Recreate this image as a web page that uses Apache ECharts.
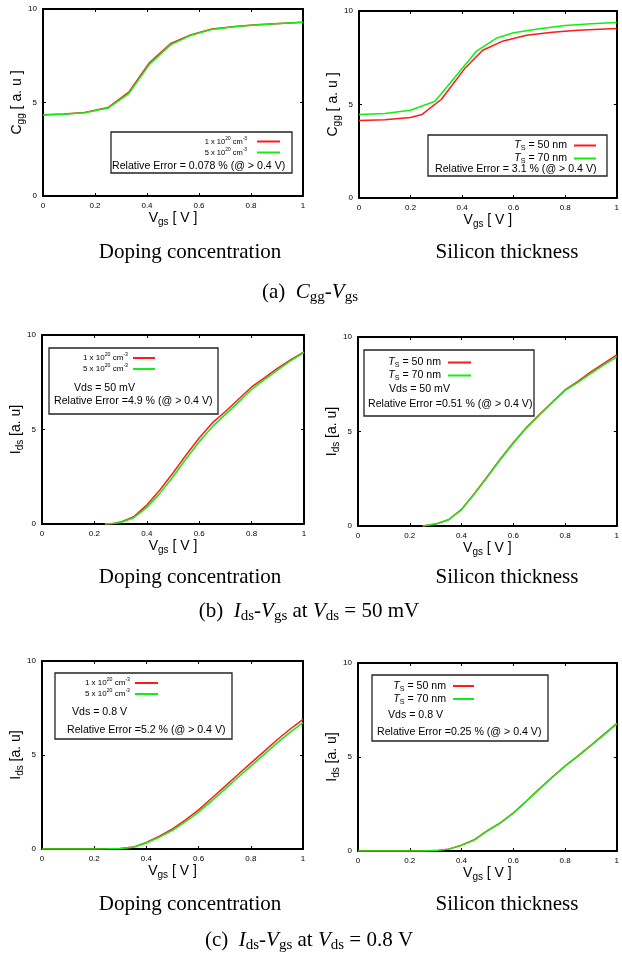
<!DOCTYPE html>
<html><head><meta charset="utf-8">
<script src="https://cdn.jsdelivr.net/npm/echarts@6/dist/echarts.min.js"></script>
<style>html,body{margin:0;padding:0;background:#fff}#c{width:622px;height:955px}</style>
</head><body><div id="c"></div>
<script>
// ---------- data ----------
const xTickInterval = 0.2;
const yTickInterval = 5;
// (a) Cgg-Vgs, doping
const vgsCggDop = [0,0.08,0.16,0.25,0.33,0.41,0.49,0.57,0.65,0.74,0.82,0.91,1.0];
const cggDop1e20 = [4.34,4.38,4.46,4.73,5.55,7.14,8.14,8.63,8.93,9.07,9.16,9.23,9.29];
const cggDop5e20 = [4.33,4.37,4.45,4.70,5.48,7.05,8.08,8.60,8.91,9.06,9.15,9.23,9.29];
// (a) Cgg-Vgs, silicon thickness
const vgsCggTs50 = [0,0.1,0.2,0.245,0.32,0.41,0.48,0.56,0.65,0.75,0.85,1.0];
const cggTs50 = [4.14,4.18,4.30,4.47,5.28,6.92,7.90,8.40,8.70,8.87,8.97,9.07];
const vgsCggTs70 = [0,0.1,0.2,0.295,0.456,0.535,0.6,0.7,0.8,0.9,1.0];
const cggTs70 = [4.46,4.52,4.69,5.17,7.86,8.56,8.84,9.05,9.23,9.32,9.39];
// (b) Ids-Vgs at Vds = 50 mV, doping
const vgsIdsLinDop = [0.24,0.27,0.3,0.35,0.4,0.45,0.5,0.55,0.6,0.65,0.7,0.75,0.8,0.85,0.9,0.95,1.0];
const idsLinDop1e20 = [0,0.03,0.10,0.38,1.00,1.80,2.70,3.65,4.55,5.35,5.95,6.60,7.25,7.75,8.25,8.70,9.10];
const idsLinDop5e20 = [0,0.02,0.08,0.33,0.88,1.62,2.50,3.45,4.35,5.15,5.80,6.45,7.12,7.65,8.15,8.65,9.08];
// (b) Ids-Vgs at Vds = 50 mV, silicon thickness
const vgsIdsLinTs = [0.25,0.3,0.35,0.4,0.45,0.5,0.55,0.6,0.65,0.7,0.75,0.8,0.85,0.9,0.95,1.0];
const idsLinTs50 = [0,0.10,0.33,0.88,1.72,2.62,3.55,4.40,5.20,5.88,6.55,7.20,7.65,8.15,8.60,9.05];
const idsLinTs70 = [0,0.10,0.33,0.87,1.70,2.60,3.52,4.38,5.18,5.86,6.52,7.17,7.60,8.08,8.52,8.95];
// (c) Ids-Vgs at Vds = 0.8 V, doping
const vgsIdsSat = [0,0.1,0.2,0.25,0.3,0.35,0.4,0.45,0.5,0.55,0.6,0.65,0.7,0.75,0.8,0.85,0.9,0.95,1.0];
const idsSatDop1e20 = [0,0,0,0.01,0.03,0.10,0.35,0.68,1.07,1.55,2.08,2.70,3.32,3.95,4.57,5.18,5.80,6.37,6.90];
const idsSatDop5e20 = [0,0,0,0.01,0.03,0.09,0.32,0.63,0.99,1.45,1.96,2.56,3.17,3.80,4.41,5.02,5.63,6.20,6.72];
// (c) Ids-Vgs at Vds = 0.8 V, silicon thickness
const idsSatTs50 = [0,0,0,0.005,0.02,0.10,0.31,0.60,1.08,1.50,2.02,2.65,3.30,3.92,4.52,5.06,5.62,6.20,6.78];
const idsSatTs70 = [0,0,0,0.005,0.02,0.10,0.30,0.59,1.07,1.49,2.01,2.64,3.29,3.91,4.51,5.05,5.61,6.18,6.76];

const relErrors = ['0.078','3.1','4.9','0.51','5.2','0.25'];
const vdsTexts = ['', '', 'Vds = 50 mV', 'Vds = 50 mV', 'Vds = 0.8 V', 'Vds = 0.8 V'];
const captions = ['Doping concentration', 'Silicon thickness'];

// ---------- layout ----------
const FONT = "'Liberation Sans', Arial, sans-serif";
const SERIF = "'Liberation Serif', 'Times New Roman', serif";
const RED = '#ff1a1a', GREEN = '#11ee11';

const grids = [
  {left:43, top:9, width:260, height:187},
  {left:359, top:11, width:262, height:187},
  {left:42, top:335, width:262, height:189},
  {left:358, top:337, width:262, height:189},
  {left:42, top:661, width:261, height:188},
  {left:358, top:663, width:262, height:188}
];
const yNames = ['cgg','cgg','ids','ids','ids','ids'];
const panelSeries = [
  [['cggDop1e20', vgsCggDop, cggDop1e20, RED], ['cggDop5e20', vgsCggDop, cggDop5e20, GREEN]],
  [['cggTs50', vgsCggTs50, cggTs50, RED], ['cggTs70', vgsCggTs70, cggTs70, GREEN]],
  [['idsLinDop1e20', vgsIdsLinDop, idsLinDop1e20, RED], ['idsLinDop5e20', vgsIdsLinDop, idsLinDop5e20, GREEN]],
  [['idsLinTs50', vgsIdsLinTs, idsLinTs50, RED], ['idsLinTs70', vgsIdsLinTs, idsLinTs70, GREEN]],
  [['idsSatDop1e20', vgsIdsSat, idsSatDop1e20, RED], ['idsSatDop5e20', vgsIdsSat, idsSatDop5e20, GREEN]],
  [['idsSatTs50', vgsIdsSat, idsSatTs50, RED], ['idsSatTs70', vgsIdsSat, idsSatTs70, GREEN]]
];
const isDop = [true,false,true,false,true,false];

// legend geometry: [iconRight, firstRowCenter, rowPitch, iconWidth, fontSize]
const legendGeo = [
  [280,142,12,23,7.5],
  [596,145,12,22,10.6],
  [155,359,13,22,8],
  [471,362,12,23,10.6],
  [158,684,13,23,8],
  [474,686,13,21,10.6]
];
// boxes [x,y,w,h]
const boxes = [
  [111,132,181,41],
  [428,135,179,41],
  [49,348,169,66],
  [364,350,170,66],
  [55,673,177,66],
  [372,675,176,66]
];
// extra text positions: vds [x,y], relErr [x,y]
const vdsPos = [null,null,[74,388],[389,389],[72,712],[388,715]];
const relPos = [[112,166],[435,169],[54,401],[368,404],[67,730],[377,732]];

const axisLineStyle = {color:'#000', width:2};
const tickStyle = {show:true, inside:true, length:3, lineStyle:{color:'#000', width:1}};
const vgsNameRich = {
  v:{fontSize:14, fontFamily:FONT, color:'#000'},
  s:{fontSize:10, fontFamily:FONT, color:'#000', padding:[8,0,0,0]}
};

const xAxis = [], yAxis = [], series = [], legend = [], graphic = [];
grids.forEach((g, i) => {
  xAxis.push({
    type:'value', gridIndex:i, position:'bottom', min:0, max:1, interval:xTickInterval,
    axisLine:{show:true, onZero:false, lineStyle:axisLineStyle},
    axisTick:tickStyle,
    axisLabel:{show:true, fontSize:8, color:'#000', fontFamily:FONT, margin:6},
    splitLine:{show:false},
    name:'{v|V}{s|gs}{v| [ V ]}', nameLocation:'middle', nameGap:13, nameMoveOverlap:false,
    nameTextStyle:{rich:vgsNameRich}
  });
  xAxis.push({
    type:'value', gridIndex:i, position:'top', min:0, max:1, interval:xTickInterval,
    axisLine:{show:true, onZero:false, lineStyle:axisLineStyle},
    axisTick:tickStyle, axisLabel:{show:false}, splitLine:{show:false}
  });
  const yn = yNames[i] === 'cgg' ? '{v|C}{s|gg}{v| [ a. u ]}' : '{v|I}{s|ds}{v| [a. u]}';
  yAxis.push({
    type:'value', gridIndex:i, position:'left', min:0, max:10, interval:yTickInterval,
    axisLine:{show:true, onZero:false, lineStyle:axisLineStyle},
    axisTick:tickStyle,
    axisLabel:{show:true, fontSize:8, color:'#000', fontFamily:FONT, margin:6},
    splitLine:{show:false},
    name:yn, nameLocation:'middle', nameRotate:90, nameGap:17, nameMoveOverlap:false,
    nameTextStyle:{rich:vgsNameRich}
  });
  yAxis.push({
    type:'value', gridIndex:i, position:'right', min:0, max:10, interval:yTickInterval,
    axisLine:{show:true, onZero:false, lineStyle:axisLineStyle},
    axisTick:tickStyle, axisLabel:{show:false}, splitLine:{show:false}
  });
  panelSeries[i].forEach(([name, xs, ys, col]) => {
    series.push({
      type:'line', name, xAxisIndex:2*i, yAxisIndex:2*i,
      data: xs.map((x,k) => [x, ys[k]]),
      symbol:'none', showSymbol:false, smooth:false,
      lineStyle:{color:col, width:1.5}, itemStyle:{color:col},
      animation:false, silent:true
    });
  });
  const [iconRight, row1, pitch, iw, fs] = legendGeo[i];
  const lh = pitch;
  const rich = isDop[i] ? {
    a:{fontSize:fs, fontFamily:FONT, color:'#000', lineHeight:lh},
    e:{fontSize:fs, fontFamily:FONT, color:'#000', lineHeight:lh, padding:[0, i===0?5:0, 0, 0]},
    sup:{fontSize:fs*0.65, fontFamily:FONT, color:'#000', lineHeight:lh, padding:[0,0,6,0]}
  } : {
    a:{fontSize:fs, fontFamily:FONT, color:'#000', lineHeight:lh, padding:[0,2,0,0]},
    it:{fontSize:fs, fontFamily:FONT, fontStyle:'italic', color:'#000', lineHeight:lh},
    sub:{fontSize:fs*0.68, fontFamily:FONT, color:'#000', lineHeight:lh, padding:[6,0,0,0]}
  };
  legend.push({
    orient:'vertical', align:'right', right:622 - iconRight, top:row1 - lh/2,
    itemWidth:iw, itemHeight:2, itemGap:0, icon:'rect', padding:0,
    selectedMode:false,
    data: panelSeries[i].map(s => s[0]),
    textStyle:{rich},
    formatter: name => {
      if (isDop[i]) {
        const c = name.indexOf('1e20') >= 0 ? '1' : '5';
        return '{a|' + c + ' x 10}{sup|20}{a| cm}{sup|-3}{e|}';
      }
      const t = name.indexOf('50') >= 0 ? '50' : '70';
      return '{it|T}{sub|S}{a| = ' + t + ' nm}';
    }
  });
  const [bx, by, bw, bh] = boxes[i];
  graphic.push({type:'rect', shape:{x:bx, y:by, width:bw, height:bh},
    style:{fill:'none', stroke:'#222', lineWidth:1.3}, z:10, silent:true});
  if (vdsPos[i]) {
    graphic.push({type:'text', x:vdsPos[i][0], y:vdsPos[i][1], z:10, silent:true,
      style:{text:vdsTexts[i], fontSize:10.6, fontFamily:FONT, fill:'#000', align:'left', verticalAlign:'middle'}});
  }
  const sep = (i < 2) ? ' = ' : ' =';
  graphic.push({type:'text', x:relPos[i][0], y:relPos[i][1], z:10, silent:true,
    style:{text:'Relative Error' + sep + relErrors[i] + ' % (@ > 0.4 V)', fontSize:10.6, fontFamily:FONT, fill:'#000', align:'left', verticalAlign:'middle'}});
});

// captions
const capRows = [252, 577, 904];
capRows.forEach(y => {
  graphic.push({type:'text', x:190, y, silent:true,
    style:{text:captions[0], fontSize:21, fontFamily:SERIF, fill:'#000', align:'center', verticalAlign:'middle'}});
  graphic.push({type:'text', x:507, y, silent:true,
    style:{text:captions[1], fontSize:21, fontFamily:SERIF, fill:'#000', align:'center', verticalAlign:'middle'}});
});
const capRich = {
  n:{fontSize:21, fontFamily:SERIF, fill:'#000'},
  i:{fontSize:21, fontFamily:SERIF, fontStyle:'italic', fill:'#000'},
  s:{fontSize:15, fontFamily:SERIF, fill:'#000', padding:[10,0,0,0]}
};
const subCaps = [
  ['{n|(a)  }{i|C}{s|gg}{n|-}{i|V}{s|gs}', 310, 292],
  ['{n|(b)  }{i|I}{s|ds}{n|-}{i|V}{s|gs}{n| at }{i|V}{s|ds}{n| = 50 mV}', 309, 611],
  ['{n|(c)  }{i|I}{s|ds}{n|-}{i|V}{s|gs}{n| at }{i|V}{s|ds}{n| = 0.8 V}', 309, 940]
];
subCaps.forEach(([t, x, y]) => {
  graphic.push({type:'text', x, y, silent:true,
    style:{text:t, rich:capRich, align:'center', verticalAlign:'middle'}});
});

const chart = echarts.init(document.getElementById('c'), null, {renderer:'canvas'});
chart.setOption({
  backgroundColor:'#fff',
  animation:false,
  grid: grids.map(g => Object.assign({containLabel:false}, g)),
  xAxis, yAxis, series, legend, graphic
});
</script>
</body></html>
